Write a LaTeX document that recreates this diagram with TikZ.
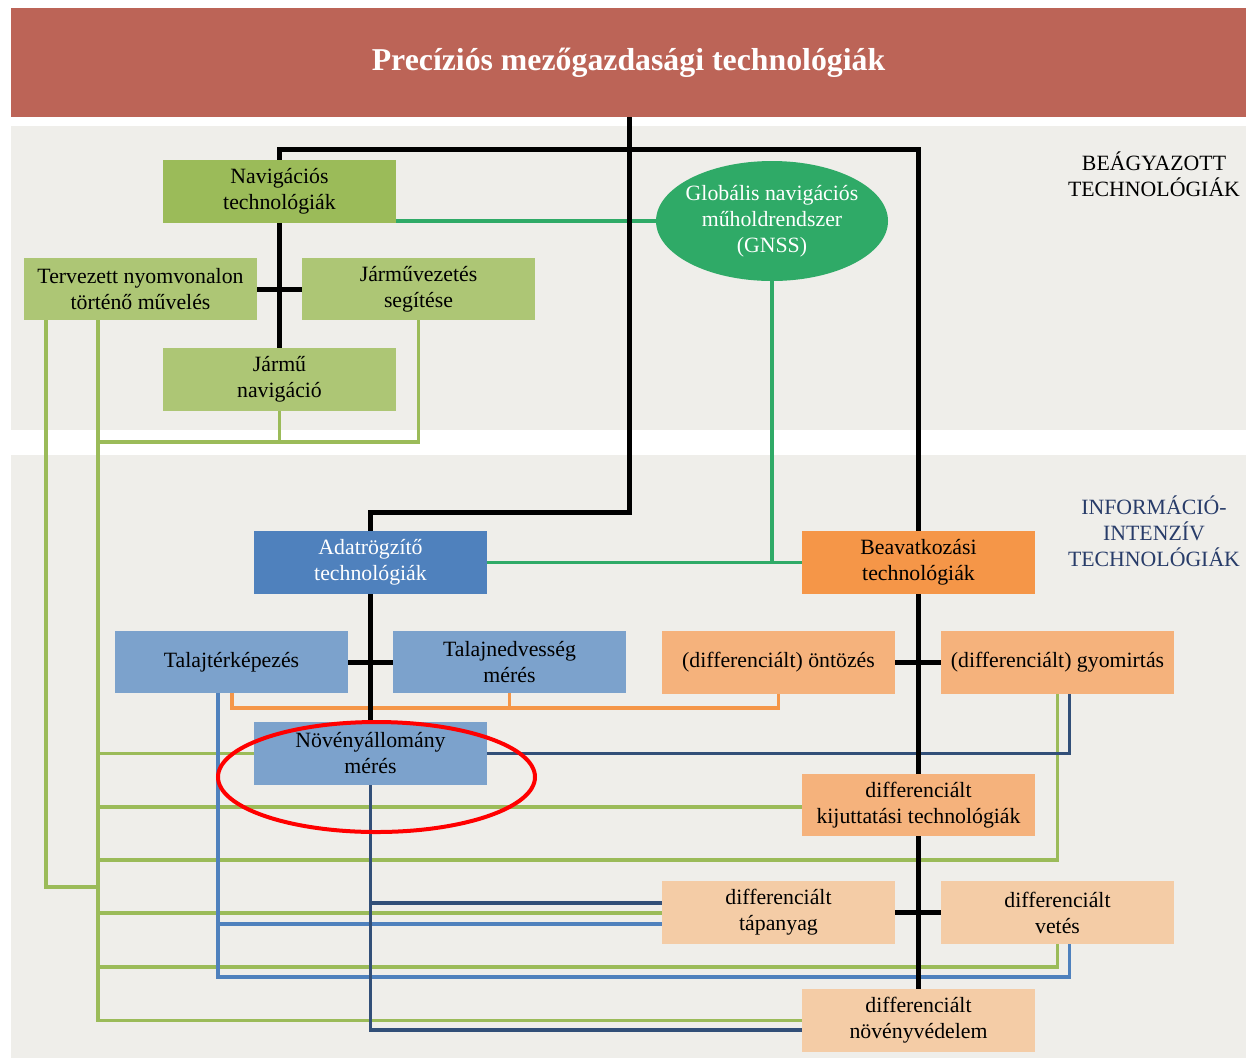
\documentclass[tikz,border=0pt]{standalone}
\usepackage{fontspec}
\setmainfont{Liberation Serif}
\usetikzlibrary{shapes.geometric}
\definecolor{titlec}{RGB}{188,100,87}
\definecolor{bandc}{RGB}{239,238,234}
\definecolor{navg}{RGB}{155,187,89}
\definecolor{lgreen}{RGB}{173,198,117}
\definecolor{gnssc}{RGB}{47,170,103}
\definecolor{adatc}{RGB}{79,129,189}
\definecolor{beavc}{RGB}{245,150,72}
\definecolor{lblue}{RGB}{124,162,204}
\definecolor{lorange}{RGB}{245,178,124}
\definecolor{peach}{RGB}{244,204,166}
\definecolor{navyc}{RGB}{50,79,120}
\definecolor{infoc}{RGB}{40,60,105}
\tikzset{
  box/.style={rectangle, inner sep=0pt, minimum width=233pt, minimum height=63pt, align=center,
    font=\fontsize{21.8}{26}\selectfont, text=black},
  blk/.style={line width=5pt, black},
  gns/.style={line width=3.2pt, gnssc},
  olv/.style={line width=3.2pt, navg},
  blu/.style={line width=3.2pt, adatc},
  nvy/.style={line width=3.2pt, navyc},
  org/.style={line width=3.2pt, beavc},
}
\begin{document}
\begin{tikzpicture}[x=1pt,y=-1pt]
\useasboundingbox (0,0) rectangle (1246,1061);
\fill[white] (0,0) rectangle (1246,1061);
% bands
\fill[bandc] (11,126) rectangle (1246,430);
\fill[bandc] (11,455) rectangle (1246,1058);
\node[rectangle, fill=titlec, inner sep=0pt, minimum width=1235pt, minimum height=109pt,
  text=white, font=\fontsize{31.8}{36}\selectfont\bfseries] (title) at (628.5,62.5) {Precíziós mezőgazdasági technológiák};
% side labels
\node[align=center, font=\fontsize{21.8}{26}\selectfont, text=black] (beagy) at (1154,174) {BEÁGYAZOTT\\TECHNOLÓGIÁK};
\node[align=center, font=\fontsize{21.8}{26}\selectfont, text=infoc] (infoint) at (1154,531) {INFORMÁCIÓ-\\INTENZÍV\\TECHNOLÓGIÁK};
% nodes
\node[box, fill=navg] (nav) at (279.5,191.5) {Navigációs\\technológiák};
\node[box, fill=lgreen, minimum height=62pt] (terv) at (140.5,289) {Tervezett nyomvonalon\\történő művelés};
\node[box, fill=lgreen, minimum height=62pt] (jarmuvez) at (418.5,289) {Járművezetés\\segítése};
\node[box, fill=lgreen] (jarmunav) at (279.5,379.5) {Jármű\\navigáció};
\node[ellipse, fill=gnssc, inner xsep=-8pt, inner ysep=0pt, minimum width=232pt, minimum height=120pt, align=center,
  text=white, font=\fontsize{21.8}{26}\selectfont] (gnss) at (772,221) {Globális navigációs\\műholdrendszer\\(GNSS)};
\node[box, fill=adatc, text=white] (adat) at (370.5,562.5) {Adatrögzítő\\technológiák};
\node[box, fill=beavc] (beav) at (918.5,562.5) {Beavatkozási\\technológiák};
\node[box, fill=lblue, minimum height=62pt] (talajt) at (231.5,662) {Talajtérképezés};
\node[box, fill=lblue, minimum height=62pt] (talajn) at (509.5,662) {Talajnedvesség\\mérés};
\node[box, fill=lorange] (ontoz) at (778.5,662.5) {(differenciált) öntözés};
\node[box, fill=lorange] (gyom) at (1057.5,662.5) {(differenciált) gyomirtás};
\node[box, fill=lblue] (noveny) at (370.5,753.5) {Növényállomány\\mérés};
\node[box, fill=lorange, minimum height=62pt] (kijutt) at (918.5,805) {differenciált\\kijuttatási technológiák};
\node[box, fill=peach] (tapany) at (778.5,912.5) {differenciált\\tápanyag};
\node[box, fill=peach] (vetes) at (1057.5,912.5) {differenciált\\vetés};
\node[box, fill=peach] (novved) at (918.5,1020.5) {differenciált\\növényvédelem};
% coordinates
\coordinate (bt) at (918.5,149);
\coordinate (adatturn) at (629,512);
% GNSS green connectors
\draw[gns] (nav.east |- gnss.west) -- (gnss.west);
\draw[gns] (adat.east) -- (beav.west);
\draw[gns] (gnss.south) -- (gnss.south |- beav.west);
% olive green connectors
\draw[olv] (jarmunav.south) -- (jarmunav.south |- 0,442);
\draw[olv] (jarmuvez.south) |- (98,442);
\draw[olv] (terv.south -| 46,0) |- (98,887);
\draw[olv] (terv.south -| 98,0) |- (novved.west);
\draw[olv] (98,753.5) -- (noveny.west);
\draw[olv] (98,807) -- (kijutt.west |- 0,807);
\draw[olv] (98,860) -| (gyom.south);
\draw[olv] (98,913) -- (tapany.west |- 0,913);
\draw[olv] (98,967) -| (vetes.south);
% blue connectors
\draw[blu] (talajt.south -| 218,0) -- (218,977) -| ([xshift=12pt]vetes.south);
\draw[blu] (218,924) -- (tapany.west |- 0,924);
% navy connectors
\draw[nvy] (noveny.east) -| ([xshift=12pt]gyom.south);
\draw[nvy] (noveny.south) |- (novved.west |- 0,1030);
\draw[nvy] (370.5,903) -- (tapany.west |- 0,903);
% orange connectors
\draw[org] (talajt.south -| 232,0) -- (232,708) -| (ontoz.south);
\draw[org] (talajn.south) -- (talajn.south |- 0,708);
% black connectors
\draw[blk] (title.south -| adatturn) -- (adatturn) -| (adat.north);
\draw[blk] (nav.north) |- (bt) -- (beav.north);
\draw[blk] (beav.south) -- (kijutt.north);
\draw[blk] (kijutt.south) -- (novved.north);
\draw[blk] (nav.south) -- (jarmunav.north);
\draw[blk] (terv.east) -- (jarmuvez.west);
\draw[blk] (adat.south) -- (noveny.north);
\draw[blk] (talajt.east) -- (talajn.west);
\draw[blk] (ontoz.east) -- (gyom.west);
\draw[blk] (tapany.east) -- (vetes.west);
% red highlight
\draw[line width=4pt, red] (376.5,777) ellipse [x radius=158.5, y radius=55];
\end{tikzpicture}
\end{document}
